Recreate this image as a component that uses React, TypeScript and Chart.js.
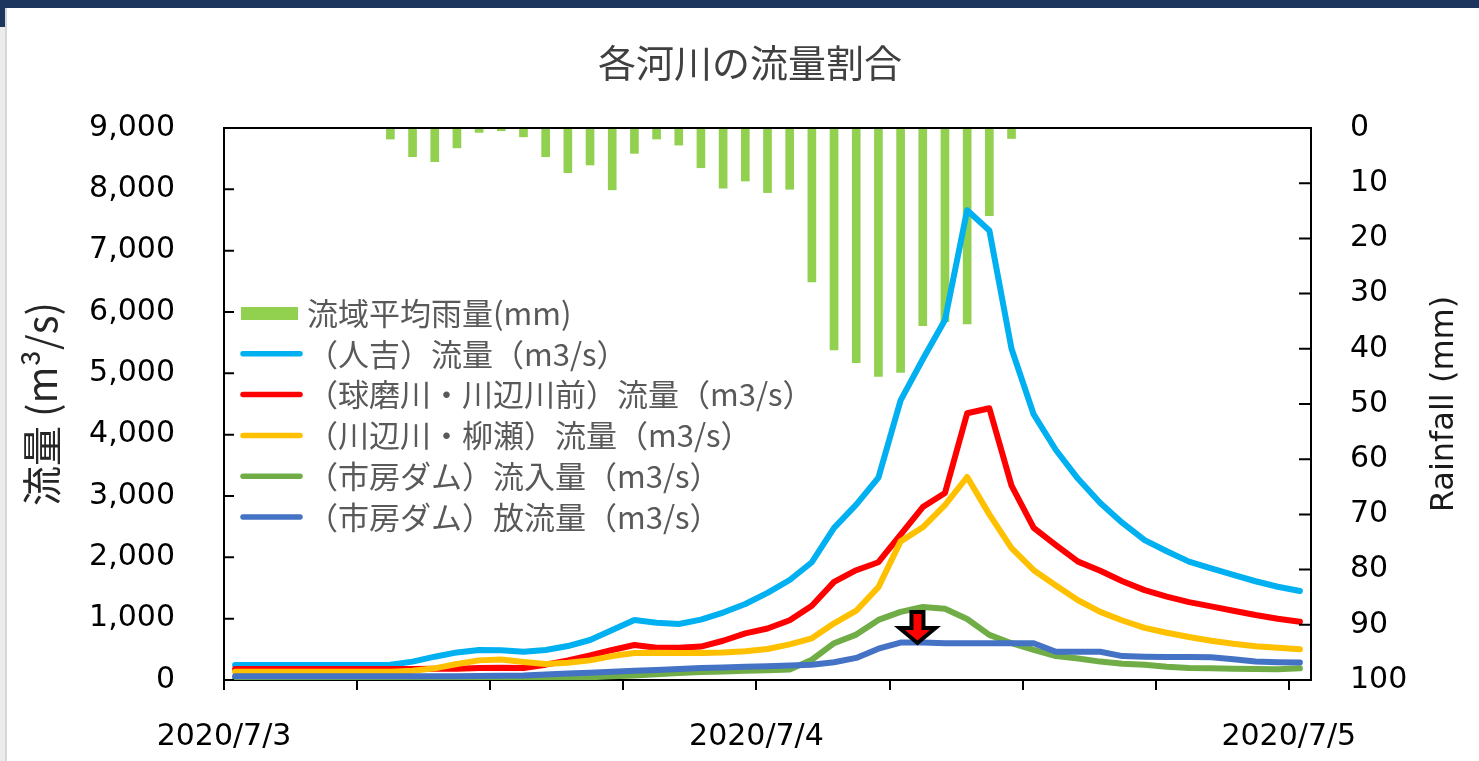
import React, { useEffect, useRef } from 'react';
import { Chart, registerables } from 'chart.js';

Chart.register(...registerables);

// ---- data (hourly, centred on each hour) ----
const HOURS = [
  0.5, 1.5, 2.5, 3.5, 4.5, 5.5, 6.5, 7.5, 8.5, 9.5,
  10.5, 11.5, 12.5, 13.5, 14.5, 15.5, 16.5, 17.5, 18.5, 19.5,
  20.5, 21.5, 22.5, 23.5, 24.5, 25.5, 26.5, 27.5, 28.5, 29.5,
  30.5, 31.5, 32.5, 33.5, 34.5, 35.5, 36.5, 37.5, 38.5, 39.5,
  40.5, 41.5, 42.5, 43.5, 44.5, 45.5, 46.5, 47.5, 48.5,
];

const X_TICK_HOURS = [0, 6, 12, 18, 24, 30, 36, 42, 48];
const DAY_LABELS = ['2020/7/3', '2020/7/4', '2020/7/5'];

const RAIN = [
  0, 0, 0, 0, 0, 0, 0, 2.0, 5.2, 6.1,
  3.6, 0.8, 0.5, 1.6, 5.2, 8.1, 6.7, 11.2, 4.6, 2.0,
  3.1, 7.2, 10.9, 9.6, 11.7, 11.1, 27.9, 40.2, 42.5, 45.0,
  44.3, 35.8, 35.1, 35.5, 15.9, 1.9, 0, 0, 0, 0,
  0, 0, 0, 0, 0, 0, 0, 0, 0,
];

const HITOYOSHI = [
  245, 245, 245, 245, 245, 245, 245, 250, 300, 380,
  450, 489, 485, 462, 489, 554, 652, 815, 978, 934,
  913, 985, 1100, 1240, 1420, 1630, 1920, 2480, 2860, 3300,
  4560, 5230, 5870, 7660, 7330, 5400, 4330, 3750, 3280, 2885,
  2560, 2280, 2100, 1930, 1820, 1715, 1610, 1520, 1450,
];

const KUMA_KAWABE = [
  180, 180, 180, 180, 180, 180, 180, 180, 180, 182,
  185, 195, 200, 195, 250, 320, 400, 490, 570, 525,
  525, 545, 640, 760, 840, 975, 1210, 1600, 1790, 1920,
  2370, 2820, 3050, 4350, 4430, 3170, 2480, 2200, 1930, 1780,
  1610, 1465, 1360, 1270, 1200, 1130, 1060, 1000, 950,
];

const KAWABE_YANASE = [
  135, 135, 135, 135, 135, 135, 135, 135, 150, 190,
  260, 320, 335, 295, 262, 280, 320, 390, 440, 445,
  440, 440, 450, 470, 505, 580, 680, 925, 1130, 1515,
  2260, 2490, 2850, 3310, 2700, 2150, 1790, 1540, 1300, 1110,
  970, 850, 770, 700, 640, 590, 550, 525, 500,
];

const ICHIFUSA_IN = [
  30, 30, 30, 30, 30, 30, 30, 30, 30, 30,
  30, 30, 30, 30, 30, 35, 45, 60, 75, 95,
  115, 130, 140, 150, 160, 170, 330, 600, 740, 980,
  1110, 1190, 1160, 995, 735, 600, 490, 390, 350, 300,
  265, 250, 215, 195, 190, 185, 180, 175, 190,
];

const ICHIFUSA_OUT = [
  60, 60, 60, 60, 60, 60, 60, 60, 60, 60,
  62, 65, 70, 75, 90, 105, 120, 135, 150, 165,
  180, 195, 205, 215, 225, 235, 250, 290, 360, 510,
  610, 610, 600, 600, 600, 600, 600, 460, 460, 460,
  390, 380, 375, 375, 370, 340, 300, 290, 285,
];

const ARROW_HOUR = 31.26;
const ARROW_VALUE = 603;

const SERIES_NAMES = [
  '流域平均雨量(mm)',
  '（人吉）流量（m3/s）',
  '（球磨川・川辺川前）流量（m3/s）',
  '（川辺川・柳瀬）流量（m3/s）',
  '（市房ダム）流入量（m3/s）',
  '（市房ダム）放流量（m3/s）',
];
const SERIES_COLORS = ['#92d050', '#00b0f0', '#ff0000', '#ffc000', '#70ad47', '#4472c4'];

const TITLE = '各河川の流量割合';
const LEFT_TITLE = '流量 (m³/s)';
const RIGHT_TITLE = 'Rainfall (mm)';

const W = 1479;
const H = 761;
const PLOT_LEFT = 224;
const PLOT_RIGHT = 1311;
const PLOT_TOP = 128;
const PLOT_BOTTOM = 680;

const CJK = '"Noto Sans CJK JP", "Noto Sans", sans-serif';
const NUM = '"DejaVu Sans", sans-serif';

const pts = (vals: number[]) => HOURS.map((h, i) => ({ x: h, y: vals[i] }));

const decorPlugin = {
  id: 'decor',
  afterDatasetsDraw(chart: any) {
    const { ctx, chartArea, scales } = chart;
    ctx.save();
    // top frame
    ctx.strokeStyle = '#000';
    ctx.lineWidth = 2;
    ctx.beginPath();
    ctx.moveTo(chartArea.left, chartArea.top);
    ctx.lineTo(chartArea.right, chartArea.top);
    ctx.stroke();
    // inside ticks
    ctx.beginPath();
    scales.y.ticks.forEach((t: any) => {
      const py = scales.y.getPixelForValue(t.value);
      ctx.moveTo(chartArea.left, py);
      ctx.lineTo(chartArea.left + 10, py);
    });
    scales.yRain.ticks.forEach((t: any) => {
      const py = scales.yRain.getPixelForValue(t.value);
      ctx.moveTo(chartArea.right, py);
      ctx.lineTo(chartArea.right - 12, py);
    });
    ctx.stroke();

    // red arrow
    const tx = scales.x.getPixelForValue(ARROW_HOUR);
    const ty = scales.y.getPixelForValue(ARROW_VALUE);
    ctx.beginPath();
    ctx.moveTo(tx - 6, ty - 31);
    ctx.lineTo(tx + 6, ty - 31);
    ctx.lineTo(tx + 6, ty - 15);
    ctx.lineTo(tx + 18, ty - 15);
    ctx.lineTo(tx, ty);
    ctx.lineTo(tx - 18, ty - 15);
    ctx.lineTo(tx - 6, ty - 15);
    ctx.closePath();
    ctx.fillStyle = '#ff0000';
    ctx.fill();
    ctx.lineWidth = 4;
    ctx.lineJoin = 'miter';
    ctx.strokeStyle = '#000';
    ctx.stroke();
    ctx.restore();
  },
  afterDraw(chart: any) {
    const { ctx, chartArea } = chart;
    ctx.save();
    // title
    ctx.fillStyle = '#404040';
    ctx.font = `38px ${CJK}`;
    ctx.textAlign = 'center';
    ctx.textBaseline = 'middle';
    ctx.fillText(TITLE, 750, 63);

    // right axis title (reads bottom to top)
    ctx.save();
    ctx.translate(chartArea.right + 134, (chartArea.top + chartArea.bottom) / 2);
    ctx.rotate(-Math.PI / 2);
    ctx.font = `32px ${NUM}`;
    ctx.fillStyle = '#1a1a1a';
    ctx.fillText(RIGHT_TITLE, 0, 0);
    ctx.restore();

    // legend
    const lx = chartArea.left + 17;
    const tx = chartArea.left + 83;
    const y0 = chartArea.top + 185;
    const step = 40.8;
    ctx.font = `31px ${CJK}`;
    ctx.textAlign = 'left';
    ctx.textBaseline = 'middle';
    SERIES_NAMES.forEach((name, i) => {
      const y = y0 + i * step;
      if (i === 0) {
        ctx.fillStyle = SERIES_COLORS[0];
        ctx.fillRect(lx, y - 6, 57, 13);
      } else {
        ctx.strokeStyle = SERIES_COLORS[i];
        ctx.lineWidth = 5.5;
        ctx.lineCap = 'round';
        ctx.beginPath();
        ctx.moveTo(lx + 2, y);
        ctx.lineTo(lx + 59, y);
        ctx.stroke();
      }
      ctx.fillStyle = '#595959';
      ctx.fillText(name, tx, y);
    });
    ctx.restore();
  },
};

export default function App() {
  const ref = useRef<HTMLCanvasElement>(null);

  useEffect(() => {
    const lineDs = (label: string, vals: number[], color: string, order: number) => ({
      type: 'line' as const,
      label,
      data: pts(vals),
      borderColor: color,
      backgroundColor: color,
      borderWidth: 6,
      pointRadius: 0,
      tension: 0,
      borderJoinStyle: 'round' as const,
      borderCapStyle: 'round' as const,
      yAxisID: 'y',
      xAxisID: 'x',
      order,
    });

    const chart = new Chart(ref.current as HTMLCanvasElement, {
      type: 'line',
      data: {
        datasets: [
          lineDs(SERIES_NAMES[5], ICHIFUSA_OUT, SERIES_COLORS[5], 0),
          lineDs(SERIES_NAMES[4], ICHIFUSA_IN, SERIES_COLORS[4], 1),
          lineDs(SERIES_NAMES[3], KAWABE_YANASE, SERIES_COLORS[3], 2),
          lineDs(SERIES_NAMES[2], KUMA_KAWABE, SERIES_COLORS[2], 3),
          lineDs(SERIES_NAMES[1], HITOYOSHI, SERIES_COLORS[1], 4),
          {
            type: 'bar' as const,
            label: SERIES_NAMES[0],
            data: pts(RAIN),
            backgroundColor: SERIES_COLORS[0],
            borderWidth: 0,
            barThickness: 8,
            yAxisID: 'yRain',
            xAxisID: 'x',
            order: 10,
          } as any,
        ],
      },
      options: {
        responsive: true,
        maintainAspectRatio: false,
        animation: false,
        events: [],
        layout: { padding: { top: PLOT_TOP, left: 0, right: 0, bottom: 0 } },
        plugins: {
          legend: { display: false },
          tooltip: { enabled: false },
          title: { display: false },
        },
        scales: {
          x: {
            type: 'linear',
            position: 'bottom',
            min: 0,
            max: 49,
            offset: false,
            afterFit: (s: any) => {
              s.height = H - PLOT_BOTTOM;
            },
            afterBuildTicks: (s: any) => {
              s.ticks = X_TICK_HOURS.map((v) => ({ value: v }));
            },
            ticks: {
              autoSkip: false,
              maxRotation: 0,
              minRotation: 0,
              padding: 29,
              color: '#000',
              font: { family: NUM, size: 30 },
              callback: (v: any) => (Number(v) % 24 === 0 ? DAY_LABELS[Number(v) / 24] : ''),
            },
            grid: {
              offset: false,
              drawOnChartArea: false,
              drawTicks: true,
              tickLength: 10,
              color: '#000',
              lineWidth: 2,
            },
            border: { display: true, color: '#000', width: 2 },
          },
          y: {
            type: 'linear',
            position: 'left',
            min: 0,
            max: 9000,
            afterFit: (s: any) => {
              s.width = PLOT_LEFT;
            },
            ticks: {
              stepSize: 1000,
              padding: 49,
              color: '#000',
              font: { family: NUM, size: 30 },
              callback: (v: any) => Number(v).toLocaleString('en-US'),
            },
            grid: { display: false, drawTicks: false },
            border: { display: true, color: '#000', width: 2 },
            title: {
              display: true,
              text: LEFT_TITLE,
              color: '#262626',
              font: { family: CJK, size: 40 },
              padding: { top: 18, bottom: 0 },
            },
          },
          yRain: {
            type: 'linear',
            position: 'right',
            reverse: true,
            min: 0,
            max: 100,
            afterFit: (s: any) => {
              s.width = W - PLOT_RIGHT;
            },
            ticks: {
              stepSize: 10,
              padding: 39,
              color: '#000',
              font: { family: NUM, size: 30 },
            },
            grid: { display: false, drawTicks: false },
            border: { display: true, color: '#000', width: 2 },
          },
        },
      } as any,
      plugins: [decorPlugin],
    });
    return () => chart.destroy();
  }, []);

  return (
    <div style={{ position: 'fixed', left: 0, top: 0, width: W, height: H, background: '#fff', overflow: 'hidden' }}>
      <div style={{ position: 'absolute', left: 0, top: 0, width: W, height: 8, background: '#1c365e' }} />
      <div style={{ position: 'absolute', left: 0, top: 0, width: 5, height: 27, background: '#1c365e' }} />
      <div style={{ position: 'absolute', left: 0, top: 27, width: 5, bottom: 0, background: '#ececec' }} />
      <div style={{ position: 'absolute', left: 5, top: 8, width: 2, bottom: 0, background: '#d6d6d6' }} />
      <div style={{ position: 'absolute', left: 0, top: 0, width: W, height: H }}>
        <canvas ref={ref} />
      </div>
    </div>
  );
}
